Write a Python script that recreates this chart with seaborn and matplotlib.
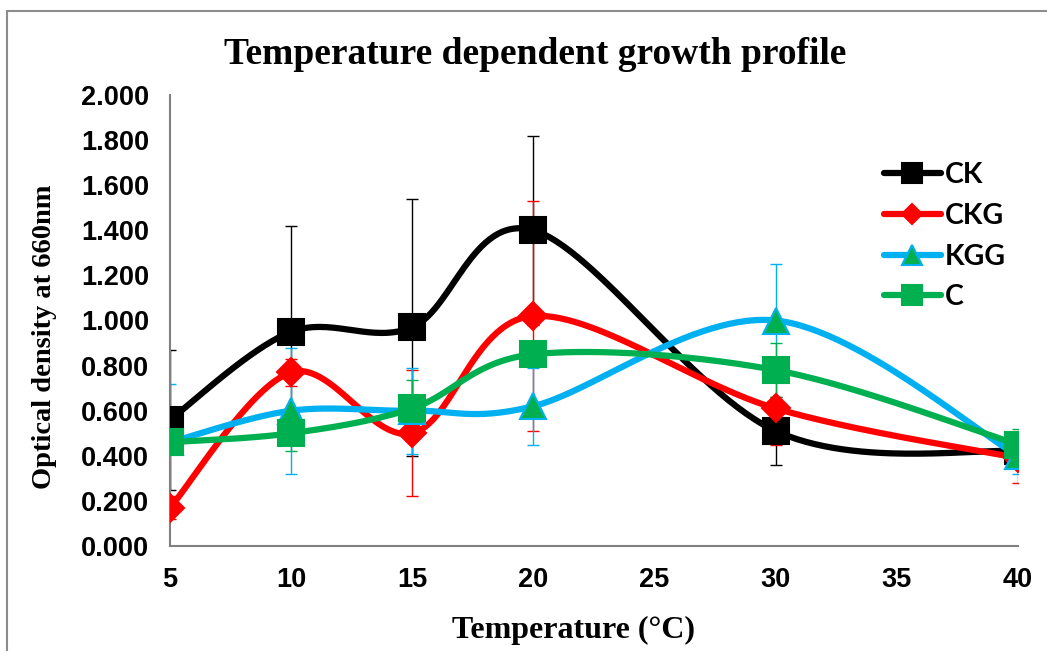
import numpy as np
import matplotlib
matplotlib.use("Agg")
import matplotlib.pyplot as plt
import seaborn as sns
import pandas as pd
from matplotlib.lines import Line2D
from matplotlib.patches import Rectangle
from matplotlib.ticker import MultipleLocator, FormatStrFormatter

# ---------------- data ----------------
temperature = [5, 10, 15, 20, 30, 40]
series_names = ["CK", "CKG", "KGG", "C"]
ck = [0.56, 0.95, 0.97, 1.40, 0.51, 0.42]
ckg = [0.17, 0.77, 0.50, 1.02, 0.61, 0.39]
kgg = [0.46, 0.60, 0.60, 0.62, 1.00, 0.40]
c = [0.46, 0.50, 0.61, 0.85, 0.78, 0.45]
ck_err = [0.31, 0.47, 0.57, 0.42, 0.15, 0.03]
ckg_err = [0.05, 0.06, 0.28, 0.51, 0.16, 0.11]
kgg_err = [0.26, 0.28, 0.19, 0.17, 0.25, 0.08]
c_err = [0.05, 0.08, 0.125, 0.05, 0.12, 0.07]
x_ticks = [5, 10, 15, 20, 25, 30, 35, 40]
y_ticks = [0.0, 0.2, 0.4, 0.6, 0.8, 1.0, 1.2, 1.4, 1.6, 1.8, 2.0]

values = [ck, ckg, kgg, c]
errors = [ck_err, ckg_err, kgg_err, c_err]
line_colors = ["#000000", "#FF0000", "#00B0F0", "#00B050"]
face_colors = ["#000000", "#FF0000", "#00B050", "#00B050"]
edge_colors = ["#000000", "#FF0000", "#00B0F0", "#00B050"]
markers = ["s", "D", "^", "s"]
msizes = [19, 14, 19, 19]


def excel_smooth(xs, ys, n=60):
    """Bezier smoothing similar to Excel's smoothed line."""
    P = np.column_stack([xs, ys]).astype(float)
    out = []
    m = len(P)
    for i in range(m - 1):
        p0 = P[i - 1] if i > 0 else P[i]
        p1 = P[i]
        p2 = P[i + 1]
        p3 = P[i + 2] if i + 2 < m else P[i + 1]
        c1 = p1 + (p2 - p0) / 6.0
        c2 = p2 - (p3 - p1) / 6.0
        t = np.linspace(0, 1, n)[:, None]
        seg = ((1 - t) ** 3) * p1 + 3 * ((1 - t) ** 2) * t * c1 + 3 * (1 - t) * t ** 2 * c2 + t ** 3 * p2
        out.append(seg if i == 0 else seg[1:])
    arr = np.vstack(out)
    return arr[:, 0], arr[:, 1]


sns.set_style("white")
plt.rcParams["font.family"] = ["Liberation Sans", "DejaVu Sans"]
plt.rcParams["text.color"] = "black"
plt.rcParams["xtick.color"] = "black"
plt.rcParams["ytick.color"] = "black"

fig = plt.figure(figsize=(10.47, 6.51), dpi=100)
ax = fig.add_axes([170 / 1047, 1 - 546 / 651, (1018 - 170) / 1047, (546 - 95) / 651])

for i, name in enumerate(series_names):
    ax.errorbar(temperature, values[i], yerr=errors[i], fmt="none",
                ecolor=line_colors[i], elinewidth=1.0, capsize=4.3, capthick=1.0,
                zorder=2 + i * 0.1)

for i, name in enumerate(series_names):
    sx, sy = excel_smooth(temperature, values[i])
    df = pd.DataFrame({"x": sx, "y": sy})
    sns.lineplot(data=df, x="x", y="y", sort=False, estimator=None, ax=ax,
                 color=line_colors[i], linewidth=4.5, zorder=3 + i * 0.1)

for i, name in enumerate(series_names):
    ax.plot(temperature, values[i], linestyle="none", marker=markers[i],
            markersize=msizes[i], markerfacecolor=face_colors[i],
            markeredgecolor=edge_colors[i], markeredgewidth=1.5, zorder=4 + i * 0.1)

ax.set_xlim(5, 40)
ax.set_ylim(0, 2.0)
ax.set_xticks(x_ticks)
ax.set_yticks(y_ticks)
ax.xaxis.set_minor_locator(MultipleLocator(1))
ax.yaxis.set_minor_locator(MultipleLocator(0.04))
ax.yaxis.set_major_formatter(FormatStrFormatter("%.3f"))
ax.tick_params(axis="both", which="major", direction="in", length=6, width=1.2,
               color="#808080", labelcolor="black", labelsize=19.5, pad=15)
ax.tick_params(axis="both", which="minor", direction="in", length=4, width=1.2,
               color="#808080")
for lab in ax.get_xticklabels() + ax.get_yticklabels():
    lab.set_fontweight("bold")

for s in ["top", "right"]:
    ax.spines[s].set_visible(False)
for s in ["left", "bottom"]:
    ax.spines[s].set_color("#808080")
    ax.spines[s].set_linewidth(1.5)
ax.set_xlabel("")
ax.set_ylabel("")

fig.text(535 / 1047, 1 - 55 / 651, "Temperature dependent growth profile",
         ha="center", va="center", fontsize=27, fontweight="bold", color="black",
         family=["Liberation Serif", "DejaVu Serif"])
fig.text(573 / 1047, 1 - 630 / 651, "Temperature (°C)",
         ha="center", va="center", fontsize=23, fontweight="bold", color="black",
         family=["Liberation Serif", "DejaVu Serif"])
fig.text(45 / 1047, 1 - 337 / 651, "Optical density at 660nm",
         ha="center", va="center", rotation=90, fontsize=20.5, fontweight="bold",
         color="black", family=["Liberation Serif", "DejaVu Serif"])

handles = []
for i, name in enumerate(series_names):
    handles.append(Line2D([0], [0], color=line_colors[i], linewidth=4.5,
                          marker=markers[i], markersize=msizes[i] * 0.75,
                          markerfacecolor=face_colors[i], markeredgecolor=edge_colors[i],
                          markeredgewidth=1.5, solid_capstyle="round"))
leg = ax.legend(handles, series_names, loc="upper left",
                bbox_to_anchor=(884 / 1047, 1 - 162 / 651), bbox_transform=fig.transFigure,
                frameon=False, handlelength=2.0, handletextpad=0.15, labelspacing=0.52,
                borderpad=0, borderaxespad=0,
                prop={"family": ["Lato", "DejaVu Sans"], "weight": "bold", "size": 20.5})

fig.add_artist(Rectangle((7 / 1047, -0.1), 1.2, 1 - 11 / 651 + 0.1,
                         transform=fig.transFigure, fill=False,
                         edgecolor="#8c8c8c", linewidth=1.5))

fig.savefig("out.png", dpi=100)
